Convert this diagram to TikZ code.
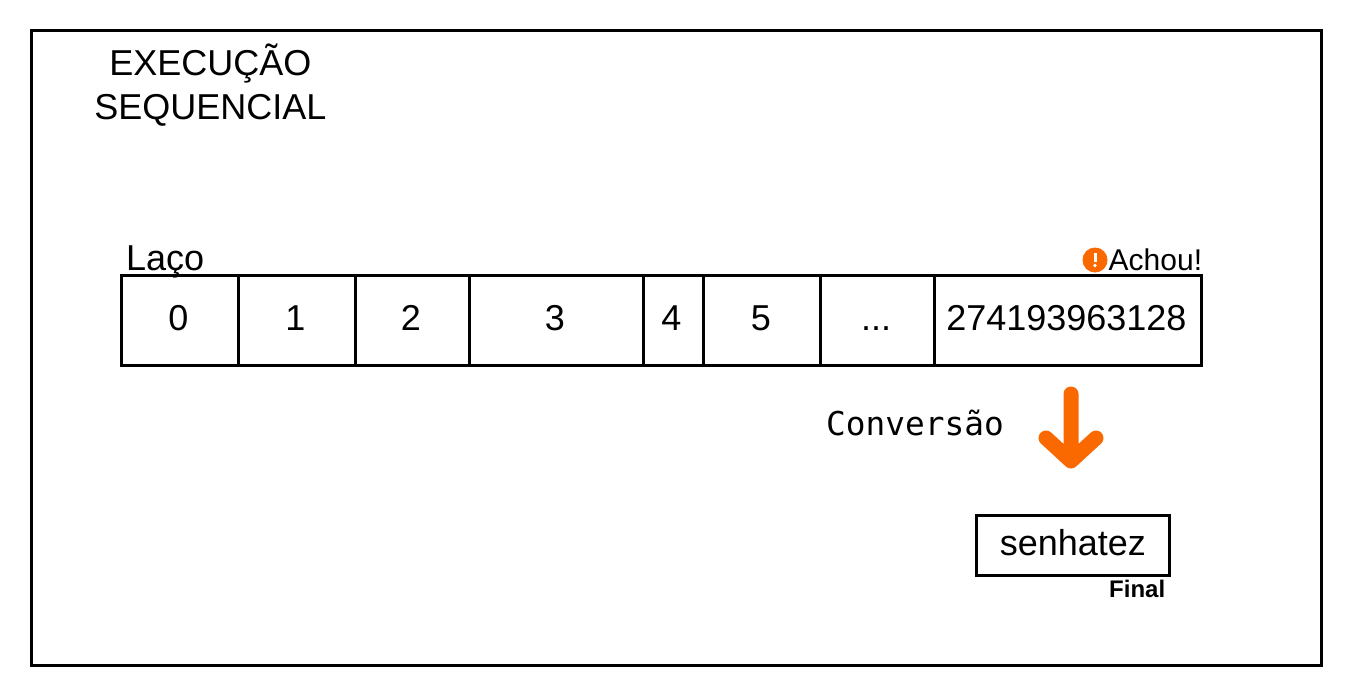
\documentclass[tikz,border=0pt]{standalone}
\usepackage{fontspec}
\setmainfont{Liberation Sans}
\newfontfamily\monof{DejaVu Sans Mono}
\definecolor{org}{HTML}{FA6800}
\tikzset{
  x=1pt,y=-1pt,
  cell/.style={draw=black,line width=3pt,inner sep=0pt,font=\fontsize{36}{42}\selectfont},
  lab/.style={inner sep=0pt,text=black,font=\fontsize{36}{44}\selectfont},
  cellbox/.style={cell,minimum height=90pt}
}
\begin{document}
\begin{tikzpicture}
\useasboundingbox (0,0) rectangle (1353,699);
\node[draw=black,line width=3pt,minimum width=1290pt,minimum height=635pt,inner sep=0pt] (frame) at (676,348) {};
\node[lab,align=center] (title) at (210.3,85) {EXECUÇÃO\\SEQUENCIAL};
\node[lab,anchor=base west] (laco) at (126,270) {Laço};
\node[cellbox,minimum width=117pt] (c0) at (180,320.5) {};
\node[cellbox,minimum width=117pt] (c1) at (297,320.5) {};
\node[cellbox,minimum width=114pt] (c2) at (412.5,320.5) {};
\node[cellbox,minimum width=174pt] (c3) at (556.5,320.5) {};
\node[cellbox,minimum width=60pt] (c4) at (673.5,320.5) {};
\node[cellbox,minimum width=117pt] (c5) at (762,320.5) {};
\node[cellbox,minimum width=114pt] (c6) at (877.5,320.5) {};
\node[cellbox,minimum width=267pt] (c7) at (1068,320.5) {};
\node[lab,anchor=base] (t0) at (178.3,330) {0};
\node[lab,anchor=base] (t1) at (295.3,330) {1};
\node[lab,anchor=base] (t2) at (411,330) {2};
\node[lab,anchor=base] (t3) at (555,330) {3};
\node[lab,anchor=base] (t4) at (671.5,330) {4};
\node[lab,anchor=base] (t5) at (761,330) {5};
\node[lab,anchor=base] (t6) at (876,330) {...};
\node[lab,anchor=base] (t7) at (1066.4,330) {274193963128};
\node[circle,fill=org,minimum size=25pt,inner sep=0pt] (warn) at (1095,260) {};
\fill[white] (1093.5,253) rectangle (1096.5,262);
\fill[white] (1095,265.5) circle (1.8pt);
\node[inner sep=0pt,anchor=base east,font=\fontsize{30}{36}\selectfont] (achou) at (1202.3,270) {Achou!};
\node[inner sep=0pt,anchor=base west,font=\monof\fontsize{32.8}{38}\selectfont] (conv) at (826,435) {Conversão};
\coordinate (as) at (1071,394);
\coordinate (ae) at (1071,461);
\coordinate (al) at (1046,438);
\coordinate (ar) at (1096,438);
\draw[org,line width=15pt,line cap=round,line join=round] (as) -- (ae) (al) -- (ae) -- (ar);
\node[cell,minimum width=193pt,minimum height=60pt] (s) at (1072.5,545.5) {};
\node[lab,anchor=base] (st) at (1072.8,555.5) {senhatez};
\node[inner sep=0pt,anchor=base east,font=\bfseries\fontsize{24}{28}\selectfont] (final) at (1165.4,597) {Final};
\end{tikzpicture}
\end{document}
